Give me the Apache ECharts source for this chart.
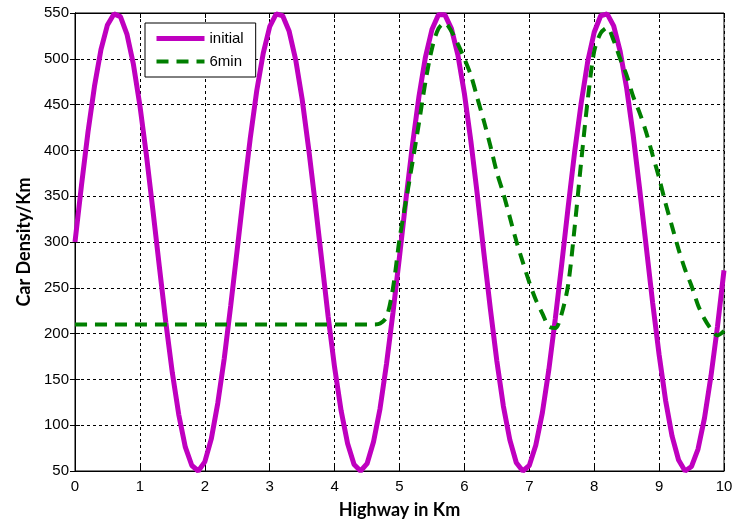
<!DOCTYPE html>
<html>
<head>
<meta charset="utf-8">
<script src="https://cdn.jsdelivr.net/npm/echarts@6/dist/echarts.min.js"></script>
<style>
  html, body { margin: 0; padding: 0; background: #fff; }
  #chart { width: 742px; height: 528px; }
</style>
</head>
<body>
<div id="chart"></div>
<script>
// 位置 (km)，每 0.1 km 一个采样点
var km = [
  0.0, 0.1, 0.2, 0.3, 0.4, 0.5, 0.6, 0.7, 0.8, 0.9,
  1.0, 1.1, 1.2, 1.3, 1.4, 1.5, 1.6, 1.7, 1.8, 1.9,
  2.0, 2.1, 2.2, 2.3, 2.4, 2.5, 2.6, 2.7, 2.8, 2.9,
  3.0, 3.1, 3.2, 3.3, 3.4, 3.5, 3.6, 3.7, 3.8, 3.9,
  4.0, 4.1, 4.2, 4.3, 4.4, 4.5, 4.6, 4.7, 4.8, 4.9,
  5.0, 5.1, 5.2, 5.3, 5.4, 5.5, 5.6, 5.7, 5.8, 5.9,
  6.0, 6.1, 6.2, 6.3, 6.4, 6.5, 6.6, 6.7, 6.8, 6.9,
  7.0, 7.1, 7.2, 7.3, 7.4, 7.5, 7.6, 7.7, 7.8, 7.9,
  8.0, 8.1, 8.2, 8.3, 8.4, 8.5, 8.6, 8.7, 8.8, 8.9,
  9.0, 9.1, 9.2, 9.3, 9.4, 9.5, 9.6, 9.7, 9.8, 9.9,
  10.0
];

// initial 曲线
var initialDensity = [
  300, 362, 420, 470, 510, 537, 549, 546, 527, 494,
  449, 395, 335, 273, 212, 157, 111, 76, 56, 50,
  60, 85, 124, 173, 231, 292, 354, 413, 465, 506,
  535, 549, 547, 530, 499, 456, 402, 343, 281, 219,
  163, 116, 80, 57, 50, 58, 82, 118, 167, 223,
  284, 347, 406, 459, 502, 532, 548, 548, 533, 504,
  462, 410, 351, 288, 227, 170, 121, 84, 59, 50,
  56, 78, 113, 160, 216, 276, 339, 399, 452, 497,
  529, 547, 549, 536, 508, 468, 417, 358, 296, 234,
  177, 127, 88, 62, 50, 55, 74, 108, 154, 208,
  269
];

// 6min 曲线
var density6min = [
  210, 210, 210, 210, 210, 210, 210, 210, 210, 210,
  210, 210, 210, 210, 210, 210, 210, 210, 210, 210,
  210, 210, 210, 210, 210, 210, 210, 210, 210, 210,
  210, 210, 210, 210, 210, 210, 210, 210, 210, 210,
  210, 210, 210, 210, 210, 210, 210, 211, 218, 250,
  303, 345, 387, 430, 475, 511, 533, 539, 530, 516,
  500, 482, 457, 432, 405, 376, 353, 327, 301, 278,
  256, 237, 222, 208, 206, 222, 254, 317, 388, 455,
  508, 528, 534, 520, 500, 482, 459, 441, 420, 395,
  370, 342, 317, 292, 270, 252, 231, 216, 205, 198,
  203
];

var xTicks = [0, 1, 2, 3, 4, 5, 6, 7, 8, 9, 10];
var yTicks = [50, 100, 150, 200, 250, 300, 350, 400, 450, 500, 550];

function pairs(xs, ys) {
  return xs.map(function (x, i) { return [x, ys[i]]; });
}

var chart = echarts.init(document.getElementById('chart'));

var labelFont = { color: '#000', fontSize: 15, fontFamily: 'Liberation Sans, Arial, sans-serif' };
var nameFont = { color: '#000', fontSize: 18, fontWeight: 'bold', fontFamily: 'Lato, Open Sans, sans-serif' };
var gridLine = { show: true, lineStyle: { color: '#000', type: [3, 3], width: 1 } };
var tick = { show: true, inside: true, length: 5, lineStyle: { color: '#000' } };

var option = {
  animation: false,
  backgroundColor: '#fff',
  grid: { left: 75, right: 18, top: 13, bottom: 57, show: true, borderColor: '#000', borderWidth: 1, backgroundColor: 'transparent' },
  legend: {
    orient: 'vertical',
    left: 145,
    top: 23,
    padding: [8, 12, 8, 9],
    itemGap: 8,
    itemWidth: 48,
    itemHeight: 12,
    borderColor: '#000',
    borderWidth: 1,
    backgroundColor: '#fff',
    itemStyle: { opacity: 0 },
    textStyle: { color: '#000', fontSize: 15, fontFamily: 'Liberation Sans, Arial, sans-serif' },
    data: [
      { name: 'initial', lineStyle: { width: 5 } },
      { name: '6min', lineStyle: { width: 4, type: [12, 8] } }
    ]
  },
  xAxis: [{
    type: 'value',
    min: xTicks[0],
    max: xTicks[xTicks.length - 1],
    interval: 1,
    name: 'Highway in Km',
    nameLocation: 'middle',
    nameGap: 30,
    nameTextStyle: nameFont,
    axisLine: { lineStyle: { color: '#000' } },
    axisTick: tick,
    axisLabel: Object.assign({ margin: 8 }, labelFont),
    splitLine: gridLine
  }, {
    type: 'value', position: 'top', min: 0, max: 10, interval: 1,
    axisLine: { lineStyle: { color: '#000' } },
    axisTick: tick,
    axisLabel: { show: false }, splitLine: { show: false }
  }],
  yAxis: [{
    type: 'value',
    min: yTicks[0],
    max: yTicks[yTicks.length - 1],
    interval: 50,
    name: 'Car Density/Km',
    nameLocation: 'middle',
    nameGap: 40,
    nameTextStyle: nameFont,
    axisLine: { show: true, lineStyle: { color: '#000' } },
    axisTick: tick,
    axisLabel: Object.assign({ margin: 6 }, labelFont),
    splitLine: gridLine
  }, {
    type: 'value', position: 'right', min: 50, max: 550, interval: 50,
    axisLine: { show: true, lineStyle: { color: '#000' } },
    axisTick: tick,
    axisLabel: { show: false }, splitLine: { show: false }
  }],
  series: [{
    name: 'initial',
    type: 'line',
    symbol: 'none',
    color: '#BF00BF',
    lineStyle: { width: 5, color: '#BF00BF' },
    data: pairs(km, initialDensity),
    z: 3
  }, {
    name: '6min',
    type: 'line',
    symbol: 'none',
    smooth: 0.3,
    color: '#007F00',
    lineStyle: { width: 4, color: '#007F00', type: [12, 8] },
    data: pairs(km, density6min),
    z: 4
  }]
};

chart.setOption(option);
</script>
</body>
</html>
